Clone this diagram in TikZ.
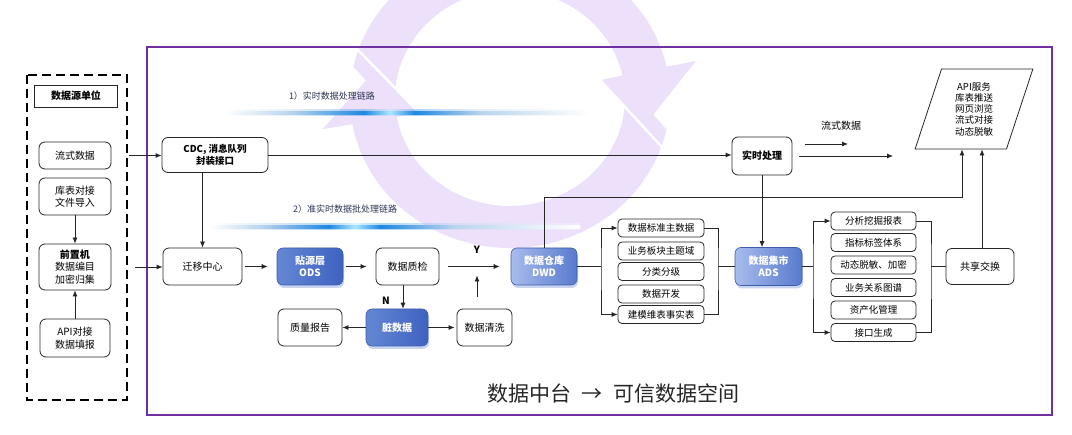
\documentclass[tikz,border=0pt]{standalone}
\usepackage{fontspec}
\setmainfont{Noto Sans CJK SC}
\usetikzlibrary{arrows.meta,shapes.geometric,shadows,calc}
\definecolor{ringc}{RGB}{236,224,250}
\definecolor{framec}{RGB}{112,48,160}
\definecolor{gA}{RGB}{30,135,225}
\definecolor{gB}{RGB}{170,230,255}
\definecolor{gL}{RGB}{185,212,238}
\definecolor{navy}{RGB}{45,55,85}
\definecolor{bd1}{RGB}{100,135,212}
\definecolor{bd2}{RGB}{62,98,192}
\definecolor{bl1}{RGB}{168,188,236}
\definecolor{bl2}{RGB}{88,122,206}
\definecolor{bborder}{RGB}{62,92,170}
\definecolor{shadc}{RGB}{165,185,230}
\pgfdeclarehorizontalshading{glowA}{100bp}{color(0bp)=(white); color(25bp)=(white); color(34bp)=(gL); color(44bp)=(gA); color(47.6bp)=(gB); color(51bp)=(gA); color(60bp)=(gL); color(75bp)=(white); color(100bp)=(white)}
\pgfdeclarehorizontalshading{glowB}{100bp}{color(0bp)=(white); color(25bp)=(white); color(32bp)=(gL); color(41bp)=(gA); color(44.6bp)=(gB); color(48bp)=(gA); color(58bp)=(gL); color(75bp)=(white); color(100bp)=(white)}
\begin{document}
\begin{tikzpicture}[x=1pt,y=-1pt,
  arr/.style={-{Latex[length=6pt,width=5pt]}, line width=0.8pt, draw=black!85},
  arrtwo/.style={{Latex[length=6pt,width=5pt]}-{Latex[length=6pt,width=5pt]}, line width=0.8pt, draw=black!85},
  ln/.style={line width=0.8pt, draw=black!85},
  wbox/.style={draw=black!85, line width=0.8pt, rounded corners=6pt, fill=white, align=center, inner sep=0pt, font=\fontsize{10}{12.5}\selectfont, text=black},
  libox/.style={draw=black!85, line width=0.8pt, rounded corners=4pt, fill=white, inner sep=0pt, minimum width=86pt, minimum height=18pt, font=\fontsize{9.5}{11}\selectfont},
  bluebox/.style={draw=bborder, line width=0.6pt, rounded corners=6pt, align=center, inner sep=0pt, text=white, font=\fontsize{10}{12}\selectfont\bfseries, drop shadow={shadow xshift=1pt, shadow yshift=-3pt, fill=shadc, opacity=0.6}},
  darkb/.style={bluebox, left color=bd1, right color=bd2},
  lightb/.style={bluebox, left color=bl1, right color=bl2},
]
\useasboundingbox (0,0) rectangle (1072,435);
\clip (0,0) rectangle (1072,435);
\fill[white] (0,0) rectangle (1072,435);

% background circular arrow
\begin{scope}[shift={(510,98)}]
\fill[ringc] (12:160 and 150) arc[start angle=12,end angle=170,x radius=160,y radius=150]
  -- (170:190 and 178) -- (193:137 and 129) -- (170:92 and 86) -- (170:115 and 108)
  arc[start angle=170,end angle=-8,x radius=115,y radius=108] -- cycle;
\fill[ringc] (192:160 and 150) arc[start angle=192,end angle=348,x radius=160,y radius=150]
  -- (348:190 and 178) -- (373:137 and 129) -- (348:92 and 86) -- (348:115 and 108)
  arc[start angle=348,end angle=172,x radius=115,y radius=108] -- cycle;
\fill[ringc] (170:190 and 178) -- (193:137 and 129) -- (170:92 and 86) -- cycle;
\draw[white, line width=2.5pt] (-90.6,14.9) -- (-155,-51);
\draw[white, line width=2.5pt] (90,-17.9) -- (155.2,52.5);
\end{scope}

% frames
\draw[framec, line width=1.1pt] (147,47) rectangle (1052,415);
\draw[black, line width=1.8pt, dash pattern=on 9pt off 5pt] (27,75) rectangle (127,400);

% glow lines
\shade[shading=glowA, opacity=0.35] (225,110) rectangle (590,116);
\shade[shading=glowA] (225,112) rectangle (590,114.2);
\shade[shading=glowB, opacity=0.35] (210,224) rectangle (580,230);
\shade[shading=glowB] (210,226) rectangle (580,228.2);

\node[font=\fontsize{9}{10}\selectfont, text=navy] (l1) at (332,96) {1）实时数据处理链路};
\node[font=\fontsize{9}{10}\selectfont, text=navy] (l2) at (345,209) {2）准实时数据批处理链路};

% left column
\node[wbox, sharp corners, font=\fontsize{10}{12}\selectfont\bfseries, minimum width=83pt, minimum height=22pt] (src) at (76,96) {数据源单位};
\node[wbox, minimum width=72pt, minimum height=27pt] (liu) at (75,155.5) {流式数据};
\node[wbox, minimum width=72pt, minimum height=37pt] (ku) at (75,196.5) {库表对接\\文件导入};
\node[wbox, minimum width=72pt, minimum height=46pt] (qian) at (75,267) {\textbf{前置机}\\数据编目\\加密归集};
\node[wbox, minimum width=70pt, minimum height=38pt] (api) at (75,338) {API对接\\数据填报};

% main nodes
\node[wbox, font=\fontsize{9.5}{12.5}\selectfont\bfseries, minimum width=106pt, minimum height=35pt] (cdc) at (215,155) {CDC, 消息队列\\封装接口};
\node[wbox, minimum width=79pt, minimum height=37pt] (qy) at (202.5,266.5) {迁移中心};
\node[darkb, minimum width=66pt, minimum height=37pt] (ods) at (310,266.5) {贴源层\\ODS};
\node[wbox, minimum width=63pt, minimum height=37pt] (zj) at (407.5,266.5) {数据质检};
\node[darkb, minimum width=62pt, minimum height=37pt] (zang) at (397,327.5) {脏数据};
\node[wbox, minimum width=64pt, minimum height=37pt] (zl) at (310,327.5) {质量报告};
\node[wbox, minimum width=55pt, minimum height=37pt] (qx) at (484.5,327.5) {数据清洗};
\node[lightb, minimum width=66pt, minimum height=37pt] (dwd) at (544,266.5) {数据仓库\\DWD};
\node[wbox, font=\fontsize{10}{12}\selectfont\bfseries, minimum width=60pt, minimum height=38pt] (ss) at (762,156) {实时处理};
\node[lightb, minimum width=67pt, minimum height=38pt] (ads) at (768.5,266.5) {数据集市\\ADS};
\node[wbox, minimum width=68pt, minimum height=36pt] (gx) at (980,266.5) {共享交换};

\node[libox] (a1) at (661,228) {数据标准主数据};
\node[libox] (a2) at (661,251) {业务板块主题域};
\node[libox] (a3) at (661,271.5) {分类分级};
\node[libox] (a4) at (661,294) {数据开发};
\node[libox] (a5) at (661,314.5) {建模维表事实表};

\node[libox, minimum width=85pt] (b1) at (873.5,221) {分析挖掘报表};
\node[libox, minimum width=85pt] (b2) at (873.5,242.5) {指标标签体系};
\node[libox, minimum width=85pt] (b3) at (873.5,265) {动态脱敏、加密};
\node[libox, minimum width=85pt] (b4) at (873.5,287.5) {业务关系图谱};
\node[libox, minimum width=85pt] (b5) at (873.5,310) {资产化管理};
\node[libox, minimum width=85pt] (b6) at (873.5,332.5) {接口生成};

\node[trapezium, trapezium left angle=74, trapezium right angle=106, trapezium stretches=true, minimum width=118pt, minimum height=80pt, draw=black!85, line width=0.8pt, inner sep=0pt, align=center, font=\fontsize{9.5}{11.25}\selectfont, fill=white] (para) at (974,109) {API服务\\库表推送\\网页浏览\\流式对接\\动态脱敏};

% labels
\node[font=\fontsize{10}{10}\selectfont\bfseries] (ylab) at (477,250) {Y};
\node[font=\fontsize{10}{10}\selectfont\bfseries] (nlab) at (386,301) {N};
\node[font=\fontsize{10}{10}\selectfont] (fslab) at (841,126) {流式数据};
\node[font=\fontsize{21}{24}\selectfont, text=black!85] (title) at (613,393) {数据中台\hspace{0.5em}→\hspace{0.5em}可信数据空间};

% connectors
\draw[arr] ([xshift=18pt]liu.east) -- (liu.east -| cdc.west);
\draw[arr] ([xshift=24pt]qian.east) -- (qian.east -| qy.west);
\draw[arr] (ku.south) -- (qian.north);
\draw[arr] (api.north) -- (qian.south);
\draw[arr] (cdc.east) -- (cdc.east -| ss.west);
\draw[arr] (qy.north |- cdc.south) -- (qy.north);
\draw[arr, shorten <=3pt, shorten >=9pt] (qy.east) -- (ods.west);
\draw[arr, shorten <=3pt, shorten >=9pt] (ods.east) -- (zj.west);
\draw[arr, shorten <=9pt, shorten >=11pt] (zj.east) -- (dwd.west);
\coordinate (yj) at (477,266.5);
\draw[arr, shorten <=12pt, shorten >=9pt] (qx.north -| yj) -- (yj);
\draw[arr] ([xshift=-4.5pt]zj.south) -- ([xshift=-4.5pt]zj.south |- zang.north);
\draw[arr] (zang.west) -- (zl.east);
\draw[arr, shorten >=2pt] (zang.east) -- (qx.west);

\coordinate (L1) at (601,266.5);
\coordinate (R1) at (718,266.5);
\draw[ln] (dwd.east) -- (L1);
\draw[arrtwo] (a1.west) -| (L1) |- (a5.west);
\draw[ln] (a1.east) -| (R1) |- (a5.east);
\draw[ln] (R1) -- (ads.west);
\draw[arr] (ss.south) -- (ss.south |- ads.north);

\coordinate (L2) at (813,266.5);
\coordinate (R2) at (931,266.5);
\draw[ln] (ads.east) -- (L2);
\draw[arrtwo] (b1.west) -| (L2) |- (b6.west);
\draw[ln] (b1.east) -| (R2) |- (b6.east);
\draw[ln] (R2) -- (gx.west);
\draw[arr] ([xshift=2pt]gx.north) -- ([xshift=2pt]gx.north |- para.south);
\coordinate (turn) at (962,197);
\draw[arr] (dwd.north) |- (turn) -- (turn |- para.south);
\coordinate (sout) at (893,158);
\draw[arr, shorten <=7pt] (ss.east) -- (ss.east -| sout);
\coordinate (fs1) at (805,144);
\coordinate (fs2) at (848,144);
\draw[arr] (fs1) -- (fs2);
\end{tikzpicture}
\end{document}
